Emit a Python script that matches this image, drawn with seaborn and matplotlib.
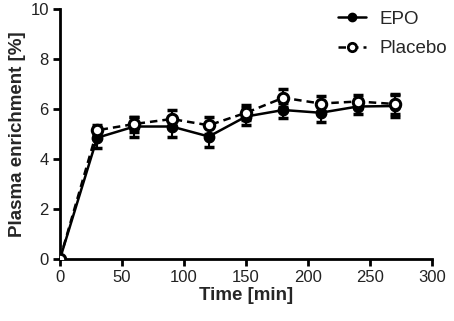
import pandas as pd
import seaborn as sns
import matplotlib.pyplot as plt
from matplotlib.lines import Line2D

time = [0, 30, 60, 90, 120, 150, 180, 210, 240, 270]
epo = [0.0, 4.85, 5.3, 5.3, 4.9, 5.7, 5.96, 5.85, 6.1, 6.12]
epo_err = [0.0, 0.4, 0.4, 0.4, 0.4, 0.35, 0.3, 0.35, 0.3, 0.45]
placebo = [0.0, 5.15, 5.4, 5.6, 5.35, 5.85, 6.45, 6.22, 6.3, 6.2]
placebo_err = [0.0, 0.2, 0.3, 0.35, 0.35, 0.3, 0.35, 0.3, 0.25, 0.4]

sns.set_style("ticks")
plt.rcParams["font.family"] = ["Liberation Sans", "DejaVu Sans"]

fig = plt.figure(figsize=(4.54, 3.21), dpi=100)
ax = fig.add_axes([0.132, 0.193, 0.82, 0.779])

ax.errorbar(time, epo, yerr=epo_err, fmt="none", ecolor="black",
            elinewidth=1.5, capsize=3.5, capthick=2.5, zorder=3)
ax.errorbar(time, placebo, yerr=placebo_err, fmt="none", ecolor="black",
            elinewidth=1.5, capsize=3.5, capthick=2.5, zorder=3)

sns.lineplot(x=time, y=epo, color="black", linewidth=1.8, linestyle="-",
             marker="o", markersize=7.5, markerfacecolor="black",
             markeredgecolor="black", markeredgewidth=1, ax=ax, zorder=4)
sns.lineplot(x=time, y=placebo, color="black", linewidth=1.8, linestyle=(0, (3, 2)),
             marker="o", markersize=7.5, markerfacecolor="white",
             markeredgecolor="black", markeredgewidth=2.2, ax=ax, zorder=5)

ax.set_xlim(0, 300)
ax.set_ylim(0, 10)
ax.set_xticks([0, 50, 100, 150, 200, 250, 300])
ax.set_yticks([0, 2, 4, 6, 8, 10])
ax.set_xlabel("Time [min]", fontsize=13.5, fontweight="bold", labelpad=1)
ax.set_ylabel("Plasma enrichment [%]", fontsize=13.5, fontweight="bold", labelpad=3)
ax.tick_params(labelsize=12, width=2, length=5, color="black", labelcolor="#222222", pad=3)
for s in ["left", "bottom"]:
    ax.spines[s].set_linewidth(2)
    ax.spines[s].set_color("black")
sns.despine(ax=ax)

handles = [
    Line2D([], [], color="black", linewidth=1.8, marker="o", markersize=6,
           markerfacecolor="black", markeredgecolor="black"),
    Line2D([], [], color="black", linewidth=1.8, linestyle=(0, (3, 2)), marker="o",
           markersize=6, markerfacecolor="white", markeredgecolor="black",
           markeredgewidth=2),
]
ax.legend(handles, ["EPO", "Placebo"], frameon=False, loc="upper right",
          bbox_to_anchor=(1.085, 1.06), fontsize=13.5, handlelength=1.5,
          handletextpad=0.7, labelspacing=0.65)

fig.savefig("out.png", dpi=100)
